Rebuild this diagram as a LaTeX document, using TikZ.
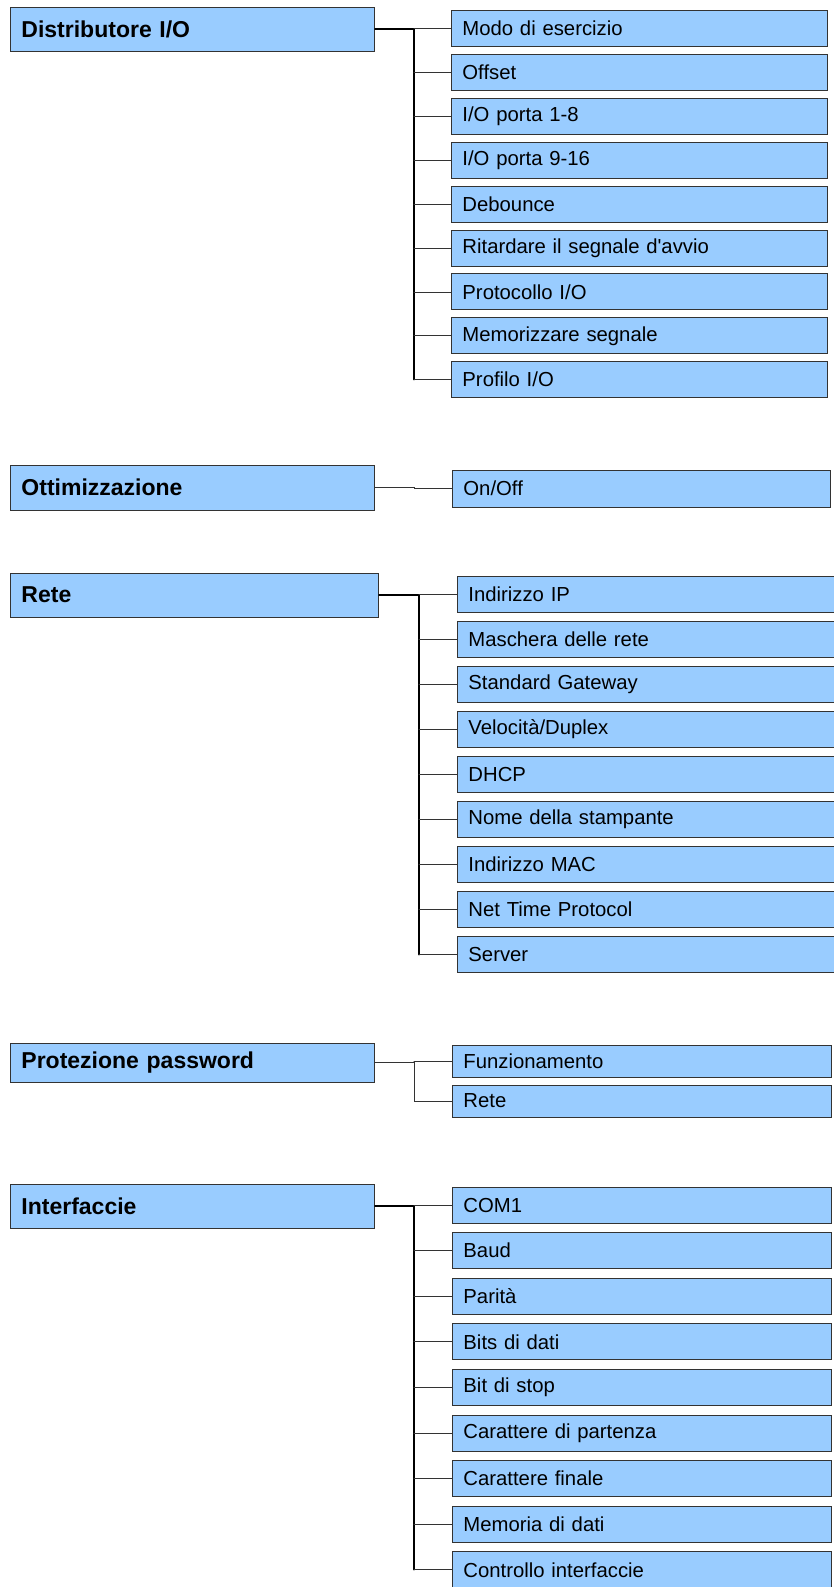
\documentclass[tikz,border=0pt]{standalone}
\usepackage{fontspec}
\setmainfont{Liberation Sans}[Ligatures=TeXOff]
\definecolor{boxblue}{HTML}{99CCFF}
\definecolor{boxline}{HTML}{333333}
\begin{document}
\begin{tikzpicture}[
        x=1pt, y=-1pt,
        line cap=round,
        box/.style={draw=boxline, fill=boxblue, line width=0.9pt, anchor=west,
            inner xsep=11pt, inner ysep=0pt, align=left},
        mainbox/.style={box, text width=342pt, minimum height=44pt,
            font=\bfseries\fontsize{23}{27}\selectfont},
        subbox/.style={box, text width=354pt, minimum height=36pt,
            font=\fontsize{20.3}{24}\selectfont},
        trunk/.style={line width=1.3pt},
        branch/.style={line width=0.8pt, draw=black!80}
    ]
        \useasboundingbox (0,0) rectangle (833,1587);
        % Distributore I/O
        \node[mainbox] (dist) at (10,29) {Distributore I/O};
        \foreach \t [count=\i from 0] in {Modo di esercizio, Offset, I/O porta 1-8,
            I/O porta 9-16, Debounce, Ritardare il segnale d'avvio, Protocollo I/O,
            Memorizzare segnale, Profilo I/O}{
            \node[subbox] (dist\i) at (451,{28.5+43.9*\i}) {\t};
        }
        \draw[trunk] (dist.east) -- ++(39,0) coordinate (distk);
        \draw[trunk] (distk) -- (distk |- dist8.west);
        \foreach \i in {0,...,8}{
            \draw[branch] (distk |- dist\i.west) -- (dist\i.west);
        }
        % Ottimizzazione
        \node[mainbox, minimum height=45pt] (ott) at (10,487.5) {Ottimizzazione};
        \node[subbox, text width=356pt, minimum height=37pt] (ott0) at (452,488.5) {On/Off};
        \draw[branch] (ott.east) -- ++(39,0) coordinate (ottk) |- (ott0.west);
        % Rete
        \node[mainbox, text width=346pt] (rete) at (10,595) {Rete};
        \foreach \t [count=\i from 0] in {Indirizzo IP, Maschera delle rete,
            Standard Gateway, Velocità/Duplex, DHCP, Nome della stampante,
            Indirizzo MAC, Net Time Protocol, Server}{
            \node[subbox, text width=358pt] (rete\i) at (457,{594+45.1*\i}) {\t};
        }
        \draw[trunk] (rete.east) -- ++(40,0) coordinate (retek);
        \draw[trunk] (retek) -- (retek |- rete8.west);
        \foreach \i in {0,...,8}{
            \draw[branch] (retek |- rete\i.west) -- (rete\i.west);
        }
        % Protezione password
        \node[mainbox, minimum height=39pt] (prot) at (10,1062.5) {Protezione password};
        \node[subbox, text width=357pt, minimum height=32pt] (prot0) at (452,1061) {Funzionamento};
        \node[subbox, text width=357pt, minimum height=32pt] (prot1) at (452,1101) {Rete};
        \draw[branch] (prot.east) -- ++(39,0) coordinate (protk) |- (prot1.west);
        \draw[branch] (protk |- prot0.west) -- (prot0.west);
        % Interfaccie
        \node[mainbox] (intf) at (10,1206) {Interfaccie};
        \foreach \t [count=\i from 0] in {COM1, Baud, Parità, Bits di dati, Bit di stop,
            Carattere di partenza, Carattere finale, Memoria di dati,
            Controllo interfaccie}{
            \node[subbox, text width=357pt] (intf\i) at (452,{1205+45.6*\i}) {\t};
        }
        \draw[trunk] (intf.east) -- ++(39,0) coordinate (intfk);
        \draw[trunk] (intfk) -- (intfk |- intf8.west);
        \foreach \i in {0,...,8}{
            \draw[branch] (intfk |- intf\i.west) -- (intf\i.west);
        }
    \end{tikzpicture}
\end{document}
